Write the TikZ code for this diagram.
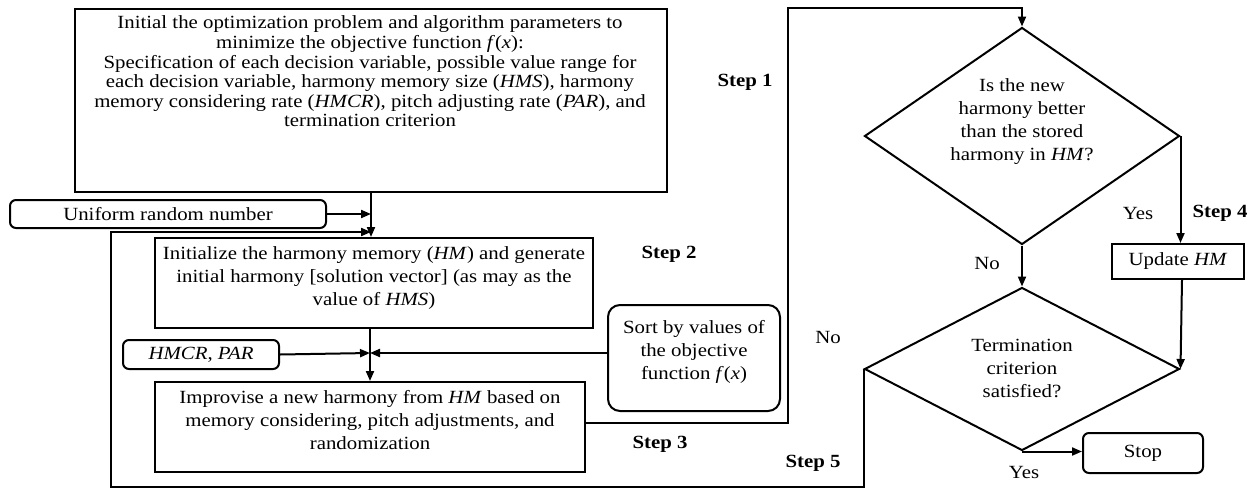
\documentclass[tikz,border=0pt]{standalone}
\usepackage{fontspec}
\setmainfont{Liberation Serif}[FakeStretch=1.12]
\usetikzlibrary{arrows.meta,shapes.geometric}
\begin{document}
\begin{tikzpicture}[x=1pt,y=-1pt,
  line width=2pt,
  every node/.style={font=\fontsize{18.6}{23}\selectfont, inner sep=0pt},
  box/.style={draw, rectangle, anchor=north west, align=center},
  rbox/.style={draw, rectangle, rounded corners=6pt, anchor=north west, align=center},
  txt/.style={align=center},
  steplbl/.style={font=\fontsize{18.6}{23}\selectfont\bfseries},
  dia/.style={draw, diamond, inner sep=0pt},
  arr/.style={-{Triangle[length=10pt,width=8pt]}},
]
\useasboundingbox (0,0) rectangle (1253,488);

% Step 1 box
\node[box, minimum width=592, minimum height=183] (b1) at (74,8) {};
\node[txt, anchor=north, font=\fontsize{18.6}{19.6}\selectfont] (b1t) at (370,15)
  {Initial the optimization problem and algorithm parameters to\\
   minimize the objective function \textit{f}(\textit{x}):\\
   Specification of each decision variable, possible value range for\\
   each decision variable, harmony memory size (\textit{HMS}), harmony\\
   memory considering rate (\textit{HMCR}), pitch adjusting rate (\textit{PAR}), and\\
   termination criterion};

\node[rbox, minimum width=316, minimum height=28] (urn) at (9,199) {Uniform random number};

\node[box, minimum width=438, minimum height=90] (init) at (154,237) {};
\node[txt] (initt) at ([yshift=5pt]init.center)
  {Initialize the harmony memory (\textit{HM}) and generate\\
   initial harmony [solution vector] (as may as the\\
   value of \textit{HMS})};

\node[rbox, minimum width=156, minimum height=29] (hmcr) at (122,339) {\textit{HMCR}, \textit{PAR}};

\node[box, minimum width=430, minimum height=90] (imp) at (154,381) {};
\node[txt] (impt) at ([yshift=7pt]imp.center)
  {Improvise a new harmony from \textit{HM} based on\\
   memory considering, pitch adjustments, and\\
   randomization};

\node[rbox, rounded corners=12pt, minimum width=172, minimum height=106] (sort) at (607,304) {};
\node[txt] (sortt) at ([yshift=6pt]sort.center)
  {Sort by values of\\ the objective\\ function \textit{f}(\textit{x})};

\node[dia, minimum width=315, minimum height=217] (d1) at (1022,136) {};
\node[txt] (d1t) at (1022,122) {Is the new\\ harmony better\\ than the stored\\ harmony in \textit{HM}?};

\node[dia, minimum width=315, minimum height=163] (d2) at (1022,369) {};
\node[txt] (d2t) at (1022,368) {Termination\\ criterion\\ satisfied?};

\node[box, minimum width=132, minimum height=35] (up) at (1111,243) {Update \textit{HM}};
\node[rbox, minimum width=120, minimum height=40] (stop) at (1082,432) {Stop};

% labels
\node[steplbl] (s1) at (745,82) {Step 1};
\node[steplbl] (s2) at (669,254) {Step 2};
\node[steplbl] (s3) at (660,444) {Step 3};
\node[steplbl] (s4) at (1220,213) {Step 4};
\node[steplbl] (s5) at (813,463) {Step 5};
\node (yes1) at (1138,213) {Yes};
\node (no1) at (987,263) {No};
\node (no2) at (828,337) {No};
\node (yes2) at (1024,472) {Yes};

% coordinates
\coordinate (j1) at (371,232);
\coordinate (j2) at (370,353);
\coordinate (lb) at (864,486.5);
\coordinate (lt) at (111,232);
\coordinate (c1) at (788,8);
\coordinate (c2) at (788,423);

% connectors
\draw[arr] (b1.south -| j1) -- (j1 |- init.north);
\draw[arr] (urn.east) -- (urn.east -| j1);
\draw[arr] (d2.west) -- (d2.west |- lb) -- (lb -| lt) -- (lt) -- (j1);
\draw[arr] (init.south -| j2) -- (j2 |- imp.north);
\draw[arr] (hmcr.east) -- (j2);
\draw[arr] (sort.west |- j2) -- (j2);
\draw[arr] (imp.east |- c2) -- (c2) -- (c1) -| (d1.north);
\draw[arr] (d1.east) -- (d1.east |- up.north);
\draw[arr] (d1.south) -- (d2.north);
\draw[arr] ([xshift=4pt]up.south) -- (d2.east);
\draw[arr] (d2.south) -- (stop.west |- d2.south);
\end{tikzpicture}
\end{document}
